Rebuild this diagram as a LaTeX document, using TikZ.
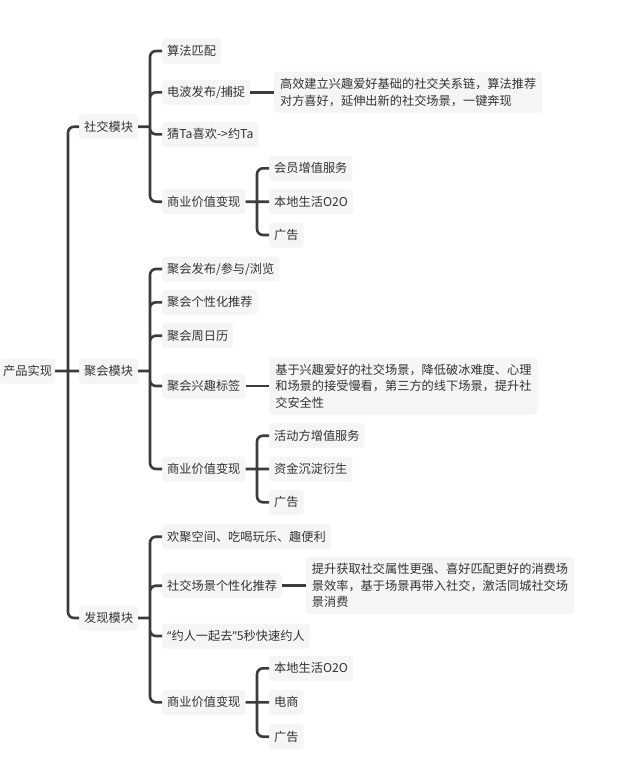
\documentclass[tikz,border=0pt]{standalone}
\usepackage{fontspec}
\setmainfont{Noto Sans CJK SC}
\newfontfamily\quotefont{Noto Sans}
\usetikzlibrary{positioning, calc}
\definecolor{boxgray}{HTML}{F5F5F5}
\definecolor{linegray}{HTML}{3C3C3C}
\definecolor{textgray}{HTML}{333333}
\tikzstyle{topic} = [rectangle, rounded corners=3pt, fill=boxgray, text=textgray, inner xsep=5pt, inner ysep=0pt, minimum height=25pt, anchor=west, font=\fontsize{12.2}{16.5}\selectfont]
\tikzstyle{detail} = [topic, align=left, inner xsep=6pt, inner ysep=6.5pt]
\tikzstyle{branch} = [draw=linegray, line width=2.6pt, rounded corners=6pt]

\begin{document}
\begin{tikzpicture}[x=1pt, y=-1pt]
\useasboundingbox (0,0) rectangle (644,758);
% root and modules
\node (root) [topic, inner xsep=3pt] at (0,371) {产品实现};
\node (m1) [topic] at (79,126.7) {社交模块};
\node (m2) [topic] at (79,371) {聚会模块};
\node (m3) [topic] at (79,618) {发现模块};
% social
\node (s1) [topic] at (162,51) {算法匹配};
\node (s2) [topic] at (162,92.3) {电波发布/捕捉};
\node (s3) [topic] at (162,134.3) {猜Ta喜欢->约Ta};
\node (s4) [topic] at (162,201.7) {商业价值变现};
\node (s2d) [detail, right=23.5pt of s2] {高效建立兴趣爱好基础的社交关系链，算法推荐\\对方喜好，延伸出新的社交场景，一键奔现};
\node (s4a) [topic] at (269,168.3) {会员增值服务};
\node (s4b) [topic] at (269,201.7) {本地生活O2O};
\node (s4c) [topic] at (269,235) {广告};
% party
\node (j1) [topic] at (162,269) {聚会发布/参与/浏览};
\node (j2) [topic] at (162,302.3) {聚会个性化推荐};
\node (j3) [topic] at (162,335.7) {聚会周日历};
\node (j4) [topic] at (162,386) {聚会兴趣标签};
\node (j5) [topic] at (162,469) {商业价值变现};
\node (j4d) [detail, right=23.5pt of j4] {基于兴趣爱好的社交场景，降低破冰难度、心理\\和场景的接受慢看，第三方的线下场景，提升社\\交安全性};
\node (j5a) [topic] at (269,435.7) {活动方增值服务};
\node (j5b) [topic] at (269,469) {资金沉淀衍生};
\node (j5c) [topic] at (269,502.3) {广告};
% discover
\node (f1) [topic] at (162,536.7) {欢聚空间、吃喝玩乐、趣便利};
\node (f2) [topic] at (162,585.7) {社交场景个性化推荐};
\node (f3) [topic] at (162,636) {{\quotefont “}约人一起去{\quotefont ”}5秒快速约人};
\node (f4) [topic] at (162,702.3) {商业价值变现};
\node (f2d) [detail, right=23.5pt of f2] {提升获取社交属性更强、喜好匹配更好的消费场\\景效率，基于场景再带入社交，激活同城社交场\\景消费};
\node (f4a) [topic] at (269,668.3) {本地生活O2O};
\node (f4b) [topic] at (269,702.3) {电商};
\node (f4c) [topic] at (269,736.7) {广告};
% junctions
\coordinate (rj) at (68,371);
\coordinate (m1j) at (150,126.7);
\coordinate (m2j) at (150,371);
\coordinate (m3j) at (150,618);
\coordinate (s4j) at (257,201.7);
\coordinate (j5j) at (257,469);
\coordinate (f4j) at (257,702.3);
% connectors
\draw [branch] (root) -- (rj) (rj) |- (m1) (rj) -- (m2) (rj) |- (m3);
\draw [branch] (m1) -- (m1j) (m1j) |- (s1) (m1j) |- (s2) (m1j) |- (s3) (m1j) |- (s4);
\draw [branch] (m2) -- (m2j) (m2j) |- (j1) (m2j) |- (j2) (m2j) |- (j3) (m2j) |- (j4) (m2j) |- (j5);
\draw [branch] (m3) -- (m3j) (m3j) |- (f1) (m3j) |- (f2) (m3j) |- (f3) (m3j) |- (f4);
\draw [branch] (s2) -- (s2d);
\draw [branch] (j4) -- (j4d);
\draw [branch] (f2) -- (f2d);
\draw [branch] (s4) -- (s4j) (s4j) |- (s4a) (s4j) -- (s4b) (s4j) |- (s4c);
\draw [branch] (j5) -- (j5j) (j5j) |- (j5a) (j5j) -- (j5b) (j5j) |- (j5c);
\draw [branch] (f4) -- (f4j) (f4j) |- (f4a) (f4j) -- (f4b) (f4j) |- (f4c);
\end{tikzpicture}
\end{document}
